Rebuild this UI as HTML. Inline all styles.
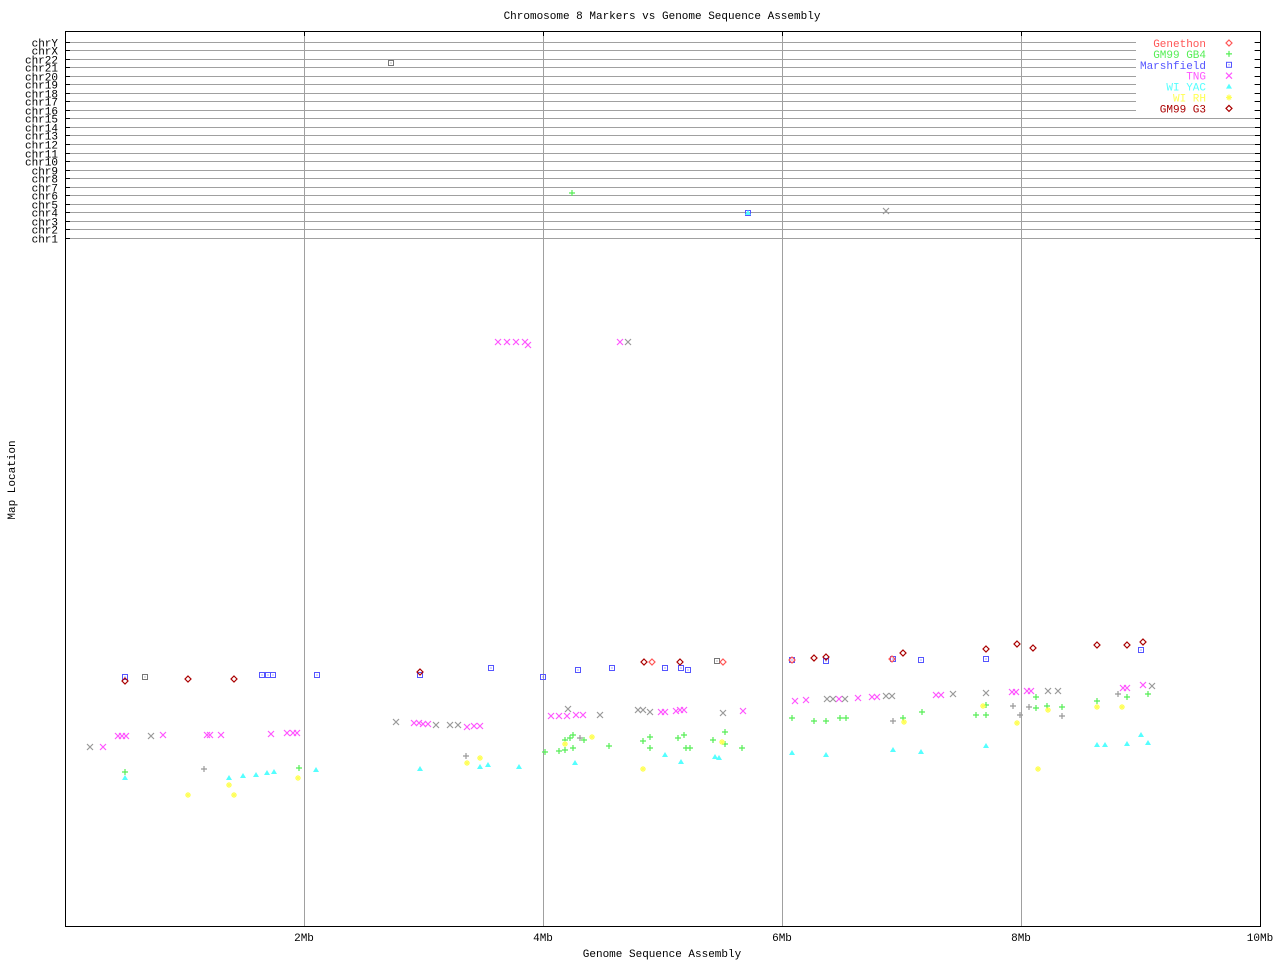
<!DOCTYPE html>
<html><head><meta charset="utf-8"><style>
html,body{margin:0;padding:0;background:#fff;}
svg text{font-family:"Liberation Mono","DejaVu Sans Mono",monospace;font-size:11px;}
</style></head><body>
<svg id="s" width="1280" height="960" xmlns="http://www.w3.org/2000/svg">
<rect width="1280" height="960" fill="#fff"/>
<text x="662" y="19" text-anchor="middle">Chromosome 8 Markers vs Genome Sequence Assembly</text>
<text x="662" y="957" text-anchor="middle">Genome Sequence Assembly</text>
<text transform="translate(15,480) rotate(-90)" text-anchor="middle">Map Location</text>
<g id="g"></g>
</svg>
<script>
var NS="http://www.w3.org/2000/svg",g=document.getElementById('g');
function el(t,a,txt){var e=document.createElementNS(NS,t);for(var k in a)e.setAttribute(k,a[k]);if(txt)e.textContent=txt;g.appendChild(e);return e;}
var L=65,R=1260,T=31,B=926;
[304,543,782,1021].forEach(function(x){el('line',{x1:x+.5,y1:T,x2:x+.5,y2:B,stroke:'#a0a0a0'});el('line',{x1:x+.5,y1:T,x2:x+.5,y2:T+5,stroke:'#000'});});
[[304,'2Mb'],[543,'4Mb'],[782,'6Mb'],[1021,'8Mb'],[1260,'10Mb']].forEach(function(p){el('text',{x:p[0],y:941,'text-anchor':'middle'},p[1]);});
var chr=['chrY','chrX','chr22','chr21','chr20','chr19','chr18','chr17','chr16','chr15','chr14','chr13','chr12','chr11','chr10','chr9','chr8','chr7','chr6','chr5','chr4','chr3','chr2','chr1'];
chr.forEach(function(c,i){var y=Math.round(41.5+i*8.54)+.5;
el('line',{x1:L,y1:y,x2:R,y2:y,stroke:'#a0a0a0'});
el('line',{x1:L,y1:y,x2:L+5,y2:y,stroke:'#000'});el('line',{x1:R-5,y1:y,x2:R,y2:y,stroke:'#000'});
el('text',{x:58,y:y+4,'text-anchor':'end'},c);});
el('rect',{x:1136,y:36,width:118,height:78,fill:'#fff'});
el('rect',{x:L+.5,y:T+.5,width:R-L,height:B-T,fill:'none',stroke:'#000'});
var C={ge:'#f55',gb:'#5e5',ma:'#55f',tn:'#f5f',wy:'#5ff',wr:'#ff5',g3:'#a00',gr:'#999'};
function mk(x,y,t,c){
 if(t=='d'){el('path',{d:'M'+x+' '+(y-3)+'L'+(x+3)+' '+y+'L'+x+' '+(y+3)+'L'+(x-3)+' '+y+'Z',fill:'none',stroke:c,'stroke-width':1.2});}
 else if(t=='+'){el('path',{d:'M'+(x-3)+' '+y+'H'+(x+3)+'M'+x+' '+(y-3)+'V'+(y+3),stroke:c,'stroke-width':1.2});}
 else if(t=='s'){el('rect',{x:x-2.5,y:y-2.5,width:5,height:5,fill:'none',stroke:c});el('rect',{x:x-.5,y:y-.5,width:1,height:1,fill:c});}
 else if(t=='x'){el('path',{d:'M'+(x-3)+' '+(y-3)+'L'+(x+3)+' '+(y+3)+'M'+(x+3)+' '+(y-3)+'L'+(x-3)+' '+(y+3),stroke:c,'stroke-width':1.2});}
 else if(t=='t'){el('path',{d:'M'+x+' '+(y-3)+'L'+(x+3)+' '+(y+2)+'L'+(x-3)+' '+(y+2)+'Z',fill:c});}
 else if(t=='*'){el('path',{d:'M'+(x-3)+' '+y+'H'+(x+3)+'M'+x+' '+(y-3)+'V'+(y+3)+'M'+(x-2)+' '+(y-2)+'L'+(x+2)+' '+(y+2)+'M'+(x+2)+' '+(y-2)+'L'+(x-2)+' '+(y+2),stroke:c,'stroke-width':1.2});}
}
var leg=[['Genethon','ge','d'],['GM99 GB4','gb','+'],['Marshfield','ma','s'],['TNG','tn','x'],['WI YAC','wy','t'],['WI RH','wr','*'],['GM99 G3','g3','d']];
leg.forEach(function(l,i){var y=43+i*10.9;el('text',{x:1206,y:y+4,'text-anchor':'end',fill:C[l[1]]},l[0]);mk(1229,y,l[2],C[l[1]]);});
mk(391,63,'s','#777');mk(572,193,'+',C.gb);mk(748,213,'s',C.ma);mk(748,213,'t',C.wy);mk(886,211,'x',C.gr);
[498,507,516,525,528,620,628].forEach(function(x,i){mk(x,i==4?345:342,'x',i==6?C.gr:C.tn);});
[[125,677],[262,675],[268,675],[273,675],[317,675],[420,675],[491,668],[578,670],[612,668],[665,668],[681,668],[688,670],[543,677],[826,661],[986,659],[1141,650],[792,660],[893,659],[921,660]].forEach(function(p){mk(p[0],p[1],'s',C.ma);});
mk(145,677,'s','#777');mk(717,661,'s','#777');
[[125,681],[188,679],[234,679],[420,672],[644,662],[680,662],[814,658],[826,657],[903,653],[986,649],[1017,644],[1033,648],[1097,645],[1127,645],[1143,642]].forEach(function(p){mk(p[0],p[1],'d',C.g3);});
[[652,662],[723,662],[892,659],[792,660]].forEach(function(p){mk(p[0],p[1],'d',C.ge);});
var tn=[[118,736],[122,736],[126,736],[103,747],[163,735],[207,735],[210,735],[221,735],[271,734],[287,733],[293,733],[297,733],[414,723],[419,723],[423,724],[428,724],[467,727],[474,726],[480,726],[551,716],[559,716],[567,716],[576,715],[583,715],[661,712],[665,712],[676,711],[680,710],[684,710],[743,711],[795,701],[806,700],[839,699],[858,698],[872,697],[877,697],[936,695],[941,695],[1012,692],[1016,692],[1027,691],[1031,691],[1123,688],[1127,688],[1143,685]];
tn.forEach(function(p){mk(p[0],p[1],'x',C.tn);});
[[90,747],[151,736],[396,722],[436,725],[450,725],[458,725],[600,715],[568,709],[638,710],[643,710],[650,712],[723,713],[827,699],[833,699],[845,699],[886,696],[892,696],[953,694],[986,693],[1048,691],[1058,691],[1152,686]].forEach(function(p){mk(p[0],p[1],'x',C.gr);});
[[125,772],[299,768],[545,752],[559,751],[565,750],[565,740],[570,738],[573,735],[573,748],[584,740],[609,746],[643,741],[650,737],[650,748],[678,738],[684,735],[686,748],[690,748],[713,740],[725,732],[725,744],[742,748],[792,718],[814,721],[826,721],[840,718],[846,718],[903,718],[922,712],[976,715],[986,715],[986,705],[1036,697],[1036,708],[1047,706],[1062,707],[1097,701],[1127,697],[1148,694]].forEach(function(p){mk(p[0],p[1],'+',C.gb);});
[[204,769],[466,756],[580,738],[893,721],[1013,706],[1020,715],[1029,707],[1062,716],[1118,694]].forEach(function(p){mk(p[0],p[1],'+',C.gr);});
[[125,778],[229,778],[243,776],[256,775],[267,773],[274,772],[316,770],[420,769],[480,767],[488,765],[519,767],[575,763],[665,755],[681,762],[715,757],[719,758],[792,753],[826,755],[893,750],[921,752],[986,746],[1097,745],[1105,745],[1127,744],[1141,735],[1148,743]].forEach(function(p){mk(p[0],p[1],'t',C.wy);});
[[188,795],[229,785],[234,795],[298,778],[467,763],[480,758],[565,744],[592,737],[643,769],[722,742],[904,722],[1017,723],[1038,769],[1048,710],[1097,707],[1122,707],[983,706]].forEach(function(p){mk(p[0],p[1],'*',C.wr);});
</script>
</body></html>
